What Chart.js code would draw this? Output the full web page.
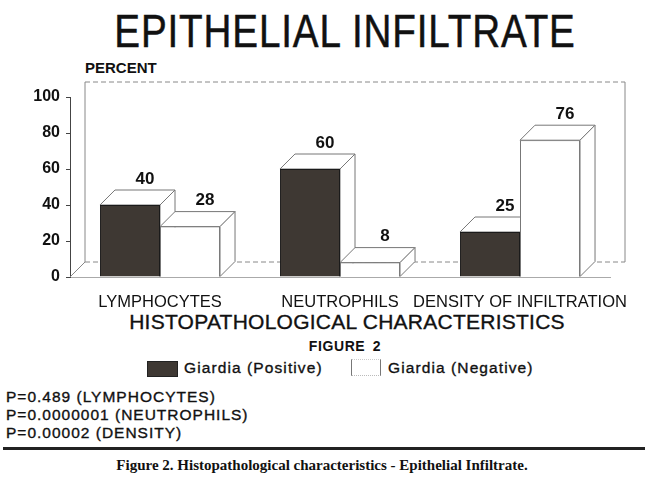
<!DOCTYPE html>
<html>
<head>
<meta charset="utf-8">
<script src="https://cdn.jsdelivr.net/npm/chart.js@4.4.1/dist/chart.umd.min.js"></script>
<style>
  html, body { margin: 0; padding: 0; background: #fff; }
  body { width: 650px; height: 485px; position: relative; overflow: hidden; font-family: "Liberation Sans", Arial, sans-serif; color: #111; }
  .t { position: absolute; line-height: 1; white-space: nowrap; -webkit-text-stroke: 0.35px #111; }
  .p { font-size: 15.5px; letter-spacing: 1px; left: 6px; }
  .lg { font-size: 15.5px; letter-spacing: 1.1px; }
  #chartBox { position: absolute; left: 0; top: 60px; width: 650px; height: 247px; }
</style>
</head>
<body>
<div class="t" id="title" style="left:345px; top:8px; font-size:46px; letter-spacing:1px; transform:translateX(-50%) scaleX(0.84); -webkit-text-stroke:0.5px #111;">EPITHELIAL INFILTRATE</div>
<div class="t" style="left:85px; top:60px; font-size:15px; font-weight:bold; -webkit-text-stroke:0;">PERCENT</div>
<div id="chartBox"><canvas id="c"></canvas></div>
<div class="t" style="left:347px; top:311px; font-size:21px; letter-spacing:0.25px; transform:translateX(-50%);">HISTOPATHOLOGICAL CHARACTERISTICS</div>
<div class="t" style="left:345px; top:339px; font-size:14px; font-weight:bold; letter-spacing:0.6px; word-spacing:3px; transform:translateX(-50%); -webkit-text-stroke:0;">FIGURE 2</div>
<div style="position:absolute; left:147px; top:361px; width:31px; height:16px; background:#3e3833; border:1px solid #222; box-sizing:border-box;"></div>
<div class="t lg" style="left:184px; top:360px;">Giardia (Positive)</div>
<div style="position:absolute; left:351px; top:359px; width:30px; height:17px; border-left:1px solid #777; border-right:1px solid #777; border-top:1px dotted #ccc; border-bottom:1px dotted #bbb; box-sizing:border-box;"></div>
<div class="t lg" style="left:388px; top:360px;">Giardia (Negative)</div>
<div class="t p" style="top:389px;">P=0.489 (LYMPHOCYTES)</div>
<div class="t p" style="top:407px;">P=0.0000001 (NEUTROPHILS)</div>
<div class="t p" style="top:425px;">P=0.00002 (DENSITY)</div>
<div style="position:absolute; left:3px; top:447px; width:642px; height:3px; background:#222;"></div>
<div class="t" style="left:322px; top:458px; font-size:15px; font-family:'Liberation Serif','Times New Roman',serif; font-weight:bold; transform:translateX(-50%); -webkit-text-stroke:0;">Figure 2. Histopathological characteristics - Epithelial Infiltrate.</div>

<script>
const categories = ['LYMPHOCYTES', 'NEUTROPHILS', 'DENSITY OF INFILTRATION'];
const positiveValues = [40, 60, 25];
const negativeValues = [28, 8, 76];
const yTickValues = [0, 20, 40, 60, 80, 100];
const seriesNames = ['Giardia (Positive)', 'Giardia (Negative)'];

const DEPTH = 15;

function facePath(ctx, b) {
  const left = b.x - b.width / 2, right = b.x + b.width / 2;
  const top = b.y, base = b.base;
  ctx.beginPath();
  ctx.moveTo(left, top);
  ctx.lineTo(left + DEPTH, top - DEPTH);
  ctx.lineTo(right + DEPTH, top - DEPTH);
  ctx.lineTo(right, top);
  ctx.closePath();
  ctx.fill(); ctx.stroke();
  ctx.beginPath();
  ctx.moveTo(right, top);
  ctx.lineTo(right + DEPTH, top - DEPTH);
  ctx.lineTo(right + DEPTH, base - DEPTH);
  ctx.lineTo(right, base);
  ctx.closePath();
  ctx.fill(); ctx.stroke();
}

const threeD = {
  id: 'threeD',
  beforeDatasetsDraw(chart) {
    const ctx = chart.ctx, a = chart.chartArea;
    ctx.save();
    ctx.strokeStyle = '#888';
    ctx.lineWidth = 1;
    ctx.setLineDash([5, 3]);
    ctx.beginPath();
    ctx.moveTo(a.left + DEPTH, a.top - DEPTH);
    ctx.lineTo(a.right + DEPTH, a.top - DEPTH);
    ctx.moveTo(a.left + DEPTH, a.bottom - DEPTH);
    ctx.lineTo(a.right + DEPTH, a.bottom - DEPTH);
    ctx.stroke();
    ctx.setLineDash([]);
    ctx.beginPath();
    ctx.moveTo(a.left + DEPTH, a.bottom - DEPTH);
    ctx.lineTo(a.left + DEPTH, a.top - DEPTH);
    ctx.moveTo(a.right + DEPTH, a.top - DEPTH);
    ctx.lineTo(a.right + DEPTH, a.bottom - DEPTH);
    ctx.moveTo(a.left, a.bottom);
    ctx.lineTo(a.left + DEPTH, a.bottom - DEPTH);
    ctx.stroke();
    ctx.fillStyle = '#fff';
    ctx.strokeStyle = '#777';
    [0, 1].forEach(i => {
      chart.getDatasetMeta(i).data.forEach(b => facePath(ctx, b));
    });
    ctx.restore();
  },
  afterDatasetsDraw(chart) {
    const ctx = chart.ctx;
    ctx.save();
    ctx.fillStyle = '#111';
    ctx.font = 'bold 17px "Liberation Sans", Arial, sans-serif';
    ctx.textAlign = 'center';
    ctx.textBaseline = 'middle';
    chart.data.datasets.forEach((ds, i) => {
      chart.getDatasetMeta(i).data.forEach((b, j) => {
        ctx.fillText(String(ds.data[j]), b.x + DEPTH, b.y - DEPTH - 11);
      });
    });
    ctx.restore();
  }
};

new Chart(document.getElementById('c'), {
  type: 'bar',
  data: {
    labels: categories,
    datasets: [
      { label: seriesNames[0], data: positiveValues, backgroundColor: '#3e3833', borderColor: '#1a1a1a', borderWidth: 1,
        barPercentage: 1.0, categoryPercentage: 0.667 },
      { label: seriesNames[1], data: negativeValues, backgroundColor: '#ffffff', borderColor: '#777', borderWidth: 1,
        barPercentage: 1.0, categoryPercentage: 0.667 }
    ]
  },
  options: {
    responsive: true,
    maintainAspectRatio: false,
    animation: false,
    layout: { padding: { left: 0, right: 40, top: 37, bottom: 0 } },
    plugins: { legend: { display: false }, tooltip: { enabled: false } },
    scales: {
      x: {
        grid: { display: false },
        border: { display: true, color: '#aaa' },
        ticks: { color: '#111', padding: 8, maxRotation: 0, autoSkip: false,
          font: { family: '"Liberation Sans", Arial, sans-serif', size: 16.5 } },
        afterFit(s) { s.height = 30; }
      },
      y: {
        min: 0, max: 100,
        afterBuildTicks(s) { s.ticks = yTickValues.map(v => ({ value: v })); },
        grid: { display: true, drawOnChartArea: false, tickLength: 4, color: '#444' },
        border: { display: true, color: '#444', width: 1 },
        ticks: { color: '#111', padding: 6,
          font: { family: '"Liberation Sans", Arial, sans-serif', size: 16, weight: 'bold' } },
        afterFit(s) { s.width = 70; }
      }
    }
  },
  plugins: [threeD]
});
</script>
</body>
</html>
